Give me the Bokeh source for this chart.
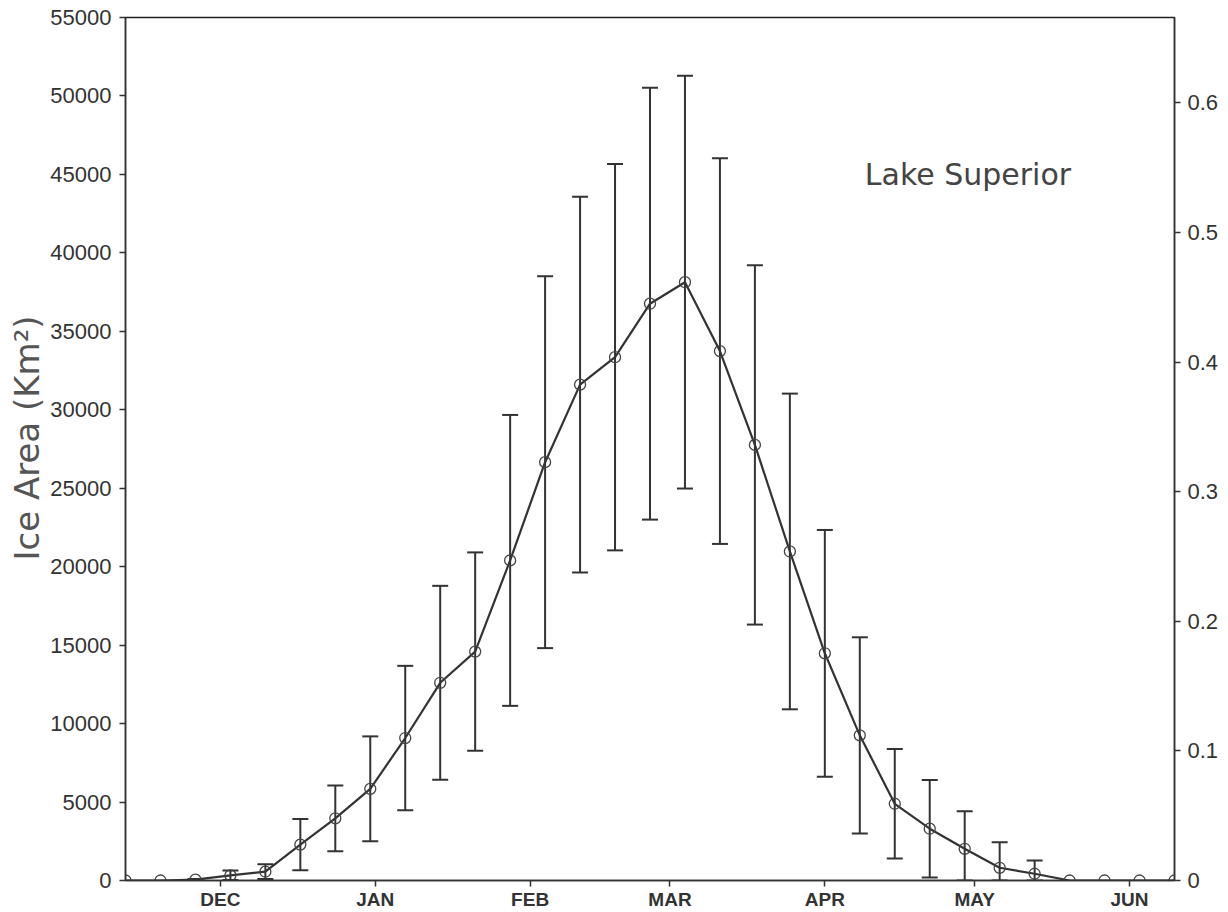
from bokeh.plotting import figure
from bokeh.models import (Range1d, LinearAxis, FixedTicker, Whisker, TeeHead,
                          ColumnDataSource, Label, NumeralTickFormatter, Title)
from bokeh.embed import file_html
from bokeh.resources import INLINE

# days since 12 Nov (weekly samples)
days = [0, 7, 14, 21, 28, 35, 42, 49, 56, 63, 70, 77, 84, 91, 98, 105,
        112, 119, 126, 133, 140, 147, 154, 161, 168, 175, 182, 189, 196, 203, 210]
ice_mean = [0, 0, 50, 330, 560, 2290, 3960, 5840, 9080, 12600, 14590, 20400,
            26660, 31600, 33350, 36760, 38130, 33740, 27760, 20970, 14480, 9250,
            4890, 3300, 2020, 810, 430, 0, 0, 0, 0]
ice_std = [0, 0, 40, 300, 470, 1630, 2100, 3345, 4600, 6180, 6320, 9270,
           11850, 11970, 12310, 13760, 13150, 12290, 11450, 10060, 7860, 6250,
           3490, 3110, 2400, 1630, 840, 0, 0, 0, 0]

month_days = [19, 50, 81, 109, 140, 170, 201]
month_labels = ["DEC", "JAN", "FEB", "MAR", "APR", "MAY", "JUN"]
left_ticks = [0, 5000, 10000, 15000, 20000, 25000, 30000, 35000, 40000, 45000, 50000, 55000]
right_ticks = [0, 0.1, 0.2, 0.3, 0.4, 0.5, 0.6]
lake_area = 82600
y_max = 55000

p = figure(frame_width=1049, frame_height=863,
           x_range=Range1d(0, 210), y_range=Range1d(0, y_max),
           output_backend="svg", toolbar_location=None,
           min_border_left=125, min_border_right=40, min_border_top=17,
           min_border_bottom=10, y_axis_location=None, x_axis_location=None)
p.grid.visible = False
p.outline_line_color = "#222222"
p.outline_line_width = 1.5
p.background_fill_color = "white"
p.border_fill_color = "white"

tick_font = "Liberation Sans"
dark = "#333333"

yax = LinearAxis(ticker=FixedTicker(ticks=left_ticks),
                 formatter=NumeralTickFormatter(format="0"))
p.add_layout(yax, "left")

p.extra_y_ranges = {"frac": Range1d(0, y_max / lake_area)}
rax = LinearAxis(y_range_name="frac", ticker=FixedTicker(ticks=right_ticks),
                 major_label_overrides={0: "0"})
p.add_layout(rax, "right")

xax = LinearAxis(ticker=FixedTicker(ticks=month_days),
                 major_label_overrides={d: m for d, m in zip(month_days, month_labels)})
p.add_layout(xax, "below")

for ax in (yax, rax, xax):
    ax.major_tick_out = 6
    ax.major_tick_in = 0
    ax.minor_tick_line_color = None
    ax.axis_line_color = dark
    ax.axis_line_width = 1.5
    ax.major_tick_line_color = dark
    ax.major_tick_line_width = 1.5
    ax.major_label_text_color = dark
    ax.major_label_text_font = tick_font
    ax.major_label_text_font_size = "22px"
    ax.major_label_standoff = 8

rax.major_label_standoff = 7
xax.major_label_text_font_style = "bold"
xax.major_label_text_font_size = "19px"
xax.major_label_standoff = 2

# y-axis title, placed as a side title so it can sit above the frame centre
ytitle = Title(text="Ice Area (Km²)", align="left", offset=320,
               text_font="DejaVu Sans", text_font_size="34px",
               text_font_style="normal", text_color="#555555", standoff=2)
p.add_layout(ytitle, "left")

# error bars (only where std > 0)
wd = [d for d, s in zip(days, ice_std) if s > 0]
wm = [m for m, s in zip(ice_mean, ice_std) if s > 0]
ws = [s for s in ice_std if s > 0]
wsrc = ColumnDataSource(dict(x=wd,
                             upper=[m + s for m, s in zip(wm, ws)],
                             lower=[max(m - s, 0) for m, s in zip(wm, ws)]))
wh = Whisker(base="x", upper="upper", lower="lower", source=wsrc,
             line_color=dark, line_width=2,
             upper_head=TeeHead(size=16, line_color=dark, line_width=2),
             lower_head=TeeHead(size=16, line_color=dark, line_width=2))
p.add_layout(wh)

p.line(days, ice_mean, line_color=dark, line_width=2.2)
p.scatter(days, ice_mean, marker="circle", size=11, fill_color=None,
          line_color="#444444", line_width=1.3)

lab = Label(x=148, y=45000, text="Lake Superior", text_font="DejaVu Sans",
            text_font_size="30px", text_color="#444444", text_baseline="middle")
p.add_layout(lab)

open("out.html", "w").write(file_html(p, INLINE))
